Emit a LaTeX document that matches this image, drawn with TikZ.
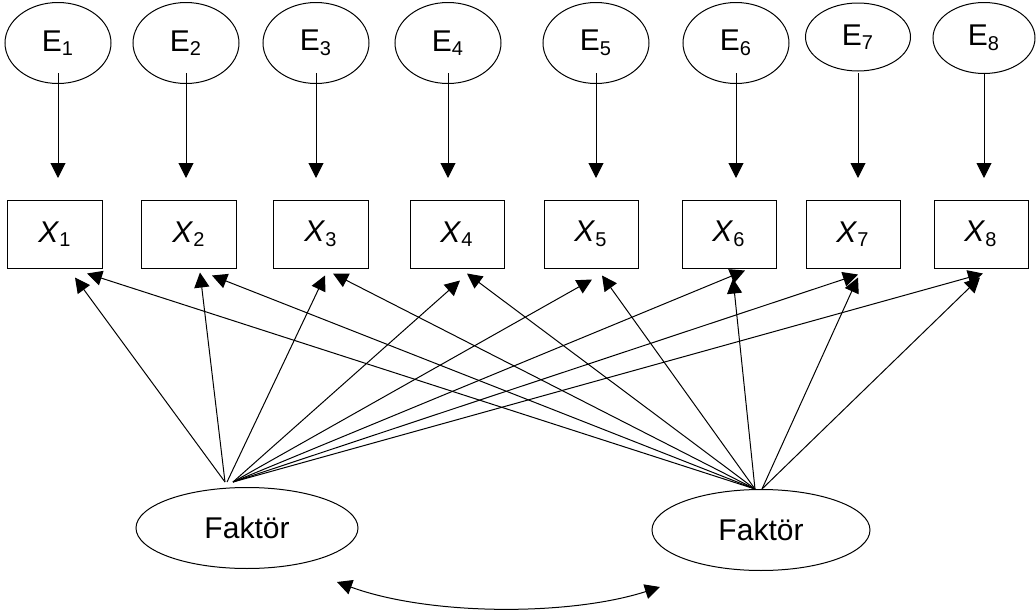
\documentclass[tikz,border=0pt]{standalone}
\usepackage{fontspec}
\setmainfont{Liberation Sans}
\usetikzlibrary{shapes.geometric,arrows.meta}

\begin{document}
\begin{tikzpicture}[x=0.4pt,y=-0.4pt,font=\fontsize{12}{14}\selectfont,
  err/.style={ellipse,draw,minimum width=42.4pt,minimum height=32.4pt,inner sep=0pt},
  obs/.style={rectangle,draw,minimum width=37.6pt,minimum height=27.2pt,inner sep=0pt},
  fac/.style={ellipse,draw,minimum width=88.8pt,minimum height=32.4pt,inner sep=0pt},
  >={Triangle[length=6pt,width=6pt]}]
\useasboundingbox (0,0) rectangle (1036,614);
\node [err] (e1) at (58,43) {E\textsubscript{1}};
\node [err] (e2) at (186,43) {E\textsubscript{2}};
\node [err] (e3) at (316,43) {E\textsubscript{3}};
\node [err] (e4) at (448,43) {E\textsubscript{4}};
\node [err] (e5) at (596,43) {E\textsubscript{5}};
\node [err] (e6) at (736,43) {E\textsubscript{6}};
\node [err,minimum width=42pt,minimum height=27.2pt] (e7) at (858,37) {E\textsubscript{7}};
\node [err,minimum width=40.8pt,minimum height=28.4pt] (e8) at (984,38) {E\textsubscript{8}};

\node [obs] (x1) at (55,234) {\textit{X}\textsubscript{1}};
\node [obs] (x2) at (189,234) {\textit{X}\textsubscript{2}};
\node [obs] (x3) at (321,234) {\textit{X}\textsubscript{3}};
\node [obs] (x4) at (457,234) {\textit{X}\textsubscript{4}};
\node [obs] (x5) at (591,234) {\textit{X}\textsubscript{5}};
\node [obs] (x6) at (729,234) {\textit{X}\textsubscript{6}};
\node [obs] (x7) at (853,234) {\textit{X}\textsubscript{7}};
\node [obs] (x8) at (981,234) {\textit{X}\textsubscript{8}};

\node [fac] (f1) at (247,528) {Faktör};
\node [fac,minimum width=87.2pt] (f2) at (761,530) {Faktör};

\coordinate (ebot) at (0,73);
\coordinate (xtop) at (0,178);
\coordinate (fl) at ([shift={(-22,-5)}]f1.north);
\coordinate (fr) at ([shift={(-6,0)}]f2.north);

\draw[->] (e1 |- ebot) -- (e1 |- xtop);
\draw[->] (e2 |- ebot) -- (e2 |- xtop);
\draw[->] (e3 |- ebot) -- (e3 |- xtop);
\draw[->] (e4 |- ebot) -- (e4 |- xtop);
\draw[->] (e5 |- ebot) -- (e5 |- xtop);
\draw[->] (e6 |- ebot) -- (e6 |- xtop);
\draw[->] (e7 |- ebot) -- (e7 |- xtop);
\draw[->] (e8 |- ebot) -- (e8 |- xtop);

\draw[->] (fl) -- ([shift={(20,9)}]x1.south);
\draw[->] (fl) -- ([shift={(11,4)}]x2.south);
\draw[->] ([shift={(2,0)}]fl) -- ([shift={(4,7)}]x3.south);
\draw[->] ([shift={(8,0)}]fl) -- ([shift={(3,12)}]x4.south);
\draw[->] ([shift={(8,0)}]fl) -- ([shift={(1,11)}]x5.south);
\draw[->] ([shift={(8,0)}]fl) -- ([shift={(16,2)}]x6.south);
\draw[->] ([shift={(8,0)}]fl) -- ([shift={(5,6)}]x7.south);
\draw[->] ([shift={(8,0)}]fl) -- ([shift={(2,5)}]x8.south);

\draw[->] (fr) -- ([shift={(32,5)}]x1.south);
\draw[->] (fr) -- ([shift={(23,7)}]x2.south);
\draw[->] (fr) -- ([shift={(12,5)}]x3.south);
\draw[->] (fr) -- ([shift={(10,5)}]x4.south);
\draw[->] (fr) -- ([shift={(11,7)}]x5.south);
\draw[->] (fr) -- ([shift={(4,10)}]x6.south);
\draw[->] ([shift={(7,0)}]fr) -- ([shift={(5,9)}]x7.south);
\draw[->] ([shift={(7,0)}]fr) -- ([shift={(-1,9)}]x8.south);

\draw[<->] ([shift={(90,54)}]f1.center) .. controls +(93,34) and +(-90,29) .. ([shift={(-101,57)}]f2.center);
\end{tikzpicture}
\end{document}
